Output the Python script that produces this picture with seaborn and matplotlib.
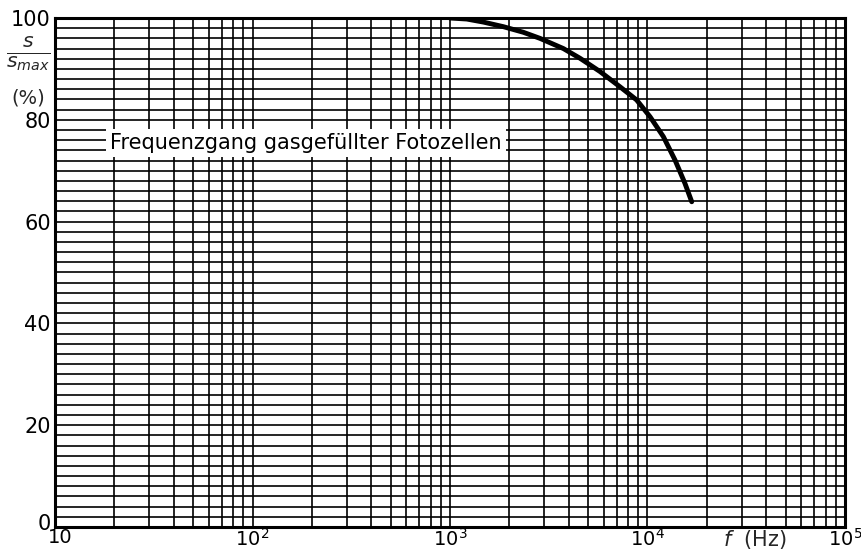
import numpy as np
import pandas as pd
import matplotlib
matplotlib.use("Agg")
import matplotlib.pyplot as plt
import matplotlib.transforms as mtransforms
from matplotlib.ticker import LogLocator, MultipleLocator, NullFormatter
import seaborn as sns

# Frequenzgang
freq_hz = [1000, 1216, 1476, 1862, 2350, 2856, 3750, 4550, 5740, 7250,
           8810, 10300, 12030, 13780, 15480, 16750]
s_rel = [100, 99.8, 99.2, 98.3, 97.2, 96.0, 94.0, 92.1, 89.5, 86.5,
         83.9, 80.6, 76.7, 72.1, 67.5, 63.9]

x_ticks = [10, 1e2, 1e3, 1e4, 1e5]
x_labels = ["10", "$10^2$", "$10^3$", "$10^4$", "$10^5$"]
y_ticks = [0, 20, 40, 60, 80, 100]
title = "Frequenzgang gasgefüllter Fotozellen"

sns.set_style("white")
plt.rcParams["font.family"] = ["DejaVu Sans"]
plt.rcParams["mathtext.fontset"] = "dejavusans"

fig = plt.figure(figsize=(8.61, 5.51), dpi=100)
ax = fig.add_axes([0.0639, 0.0436, 0.9175, 0.9237])

df = pd.DataFrame({"f": freq_hz, "s": s_rel})
sns.lineplot(data=df, x="f", y="s", ax=ax, color="black", linewidth=3.5,
             zorder=5, solid_capstyle="round", solid_joinstyle="round")

ax.set_xscale("log")
ax.set_xlim(10, 1e5)
ax.set_ylim(0, 100)

ax.xaxis.set_minor_locator(LogLocator(base=10, subs=np.arange(2, 10)))
ax.xaxis.set_minor_formatter(NullFormatter())
ax.yaxis.set_minor_locator(MultipleLocator(2))
ax.set_xticks(x_ticks)
ax.set_xticklabels(x_labels)
ax.set_yticks(y_ticks)
ax.set_yticklabels([str(v) for v in y_ticks])
ax.tick_params(which="both", length=0, colors="black")
ax.tick_params(axis="x", pad=1, labelsize=14)
ax.tick_params(axis="y", pad=3, labelsize=15)
ax.grid(which="both", color="black", linewidth=1.2)
ax.set_axisbelow(True)
for sp in ax.spines.values():
    sp.set_color("black")
    sp.set_linewidth(2.2)
ax.set_xlabel("")
ax.set_ylabel("")

# "0" etwas nach oben, "10" etwas nach rechts, wie im Original
ax.get_yticklabels()[0].set_transform(
    ax.get_yticklabels()[0].get_transform()
    + mtransforms.ScaledTranslation(0, 0.05, fig.dpi_scale_trans))
ax.get_xticklabels()[0].set_transform(
    ax.get_xticklabels()[0].get_transform()
    + mtransforms.ScaledTranslation(0.05, 0, fig.dpi_scale_trans))

# Y-Achsenbeschriftung s/s_max (%)
fig.text(0.0325, 0.902, r"$\frac{s}{s_{max}}$", ha="center", va="center", fontsize=21)
fig.text(0.0325, 0.822, "(%)", ha="center", va="center", fontsize=14)
# X-Achsenbeschriftung
fig.text(0.877, 0.02, r"$f$  (Hz)", ha="center", va="center", fontsize=15)

ax.text(0.0696, 0.754, title, transform=ax.transAxes, ha="left", va="center",
        fontsize=15, color="black", zorder=6,
        bbox=dict(facecolor="white", edgecolor="none", pad=3))

fig.savefig("out.png", dpi=100)
